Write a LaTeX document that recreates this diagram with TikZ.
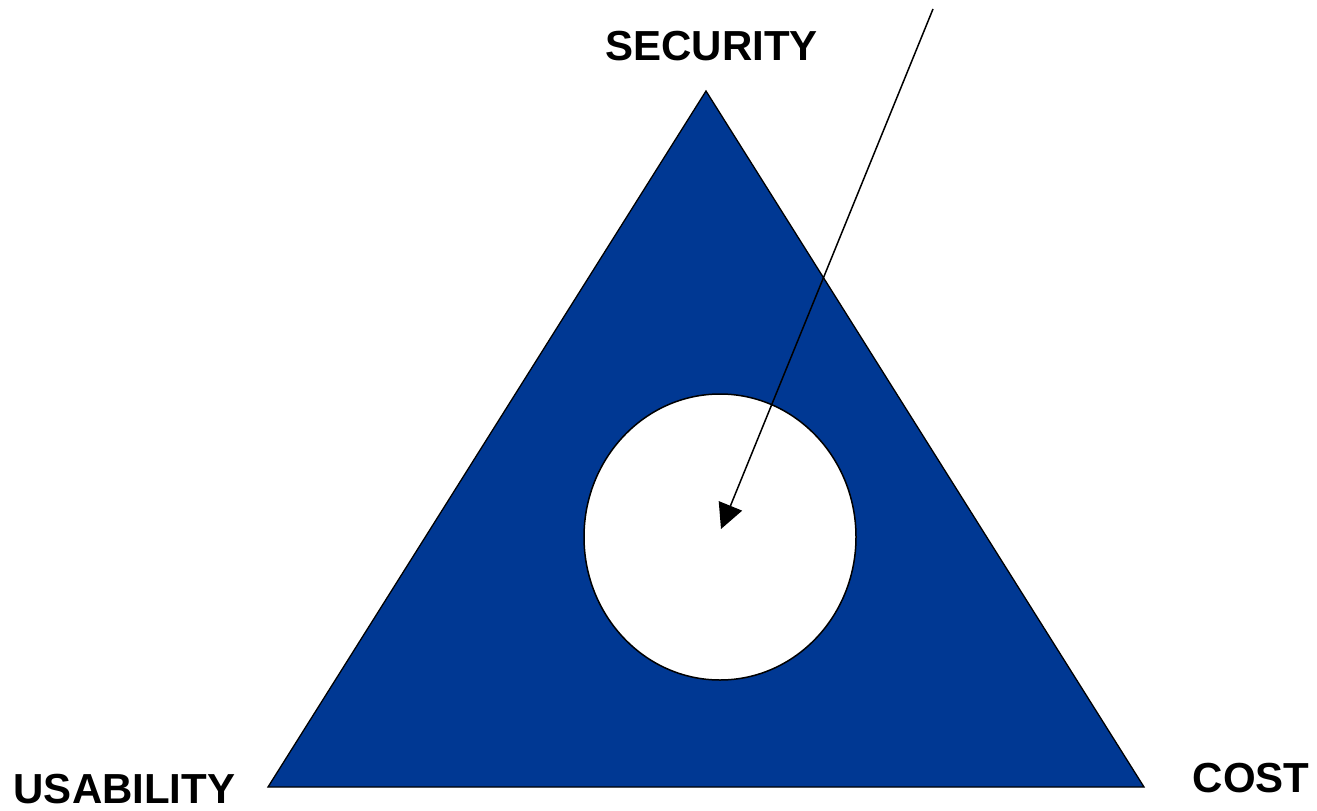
\documentclass[tikz,border=0pt]{standalone}
\usepackage{fontspec}
\setmainfont{Liberation Sans}
\usetikzlibrary{arrows.meta}
\definecolor{tblue}{RGB}{0,56,147}
\begin{document}
\begin{tikzpicture}[x=1pt,y=-1pt,
  lbl/.style={font=\fontsize{42}{48}\selectfont\bfseries, inner sep=0pt, anchor=center},
  tri/.style={fill=tblue, draw=black, line width=1.3pt, line join=miter},
  hole/.style={fill=white, draw=black, line width=1.5pt},
  pointer/.style={draw=black, line width=1.5pt, -{Triangle[length=25pt,width=25pt]}}]
\useasboundingbox (0,0) rectangle (1317,811);
\fill[white] (0,0) rectangle (1317,811);
\coordinate (top) at (706,91);
\coordinate (bl) at (268,787);
\coordinate (br) at (1144,787);
\draw[tri] (top) -- (bl) -- (br) -- cycle;
\draw[hole] (720,537) ellipse [x radius=136, y radius=143];
\coordinate (src) at (933,9);
\coordinate (tgt) at (721,529);
\draw[pointer] (src) -- (tgt);
\node[lbl] (sec) at (711.5,46) {SECURITY};
\node[lbl] (usa) at (124.5,789) {USABILITY};
\node[lbl] (cost) at (1251,778) {COST};
\end{tikzpicture}
\end{document}
